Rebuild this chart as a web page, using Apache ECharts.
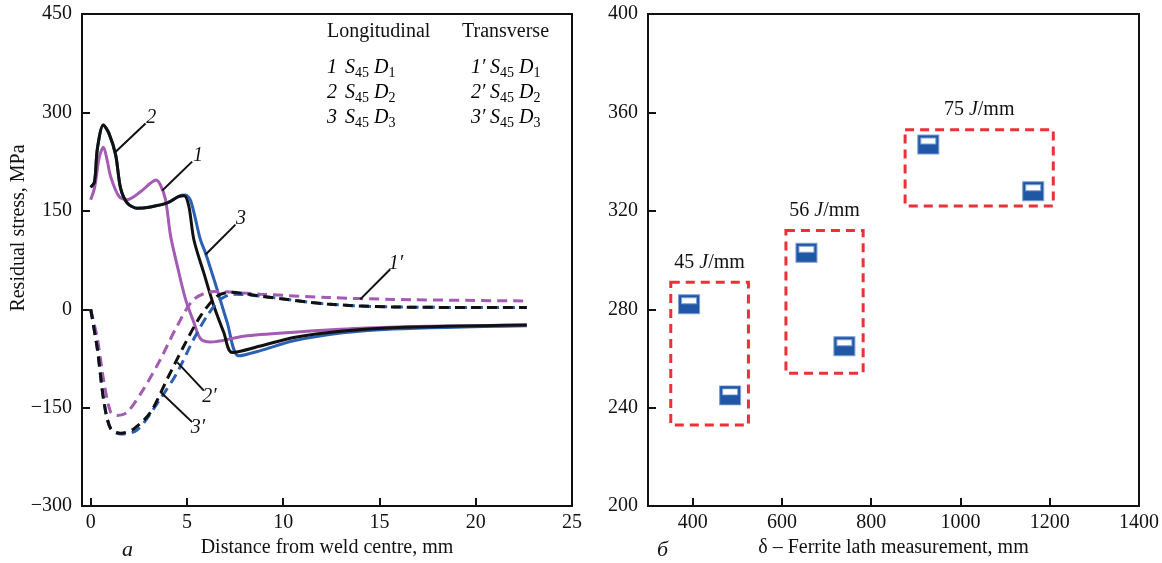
<!DOCTYPE html>
<html>
<head>
<meta charset="utf-8">
<title>Residual stress and ferrite lath</title>
<script src="https://cdn.jsdelivr.net/npm/echarts@6/dist/echarts.min.js"></script>
<style>
  html, body {margin:0; padding:0; background:#fff;}
  #main {width:1162px; height:563px;}
</style>
</head>
<body>
<div id="main"></div>
<script>
// --- left panel: residual stress vs distance from weld centre [mm, MPa]
var curve1 = [[0,167],[0.2,185],[0.45,232],[0.66,247],[0.85,228],[1.04,202],[1.47,172],[1.9,167],[2.59,179],[3.1,192],[3.4,197],[3.63,189],[3.89,167],[4.15,112],[4.5,66],[4.93,15],[5.36,-20],[5.71,-45],[6.22,-50],[7.95,-41],[10.55,-35],[14,-29],[17.46,-26],[22.65,-24]];
var curve2 = [[0,186],[0.2,194],[0.35,245],[0.66,281],[0.95,268],[1.3,235],[1.55,185],[1.9,162],[2.42,154],[3.11,156],[3.98,162],[4.58,172],[4.85,173],[5.1,157],[5.36,106],[5.88,55],[6.4,5],[6.91,-35],[7.35,-66],[8.82,-56],[10.55,-43],[13.1,-33],[15.7,-28],[22.65,-24]];
var curve3 = [[0,186],[0.2,194],[0.35,245],[0.66,281],[0.95,268],[1.3,235],[1.55,185],[1.9,162],[2.42,154],[3.11,156],[3.98,162],[4.58,172],[4.93,174],[5.2,165],[5.7,106],[5.96,86],[6.57,30],[7.09,-20],[7.69,-71],[8.82,-63],[10.55,-48],[13.1,-36],[15.7,-30],[22.65,-25]];
var curve1t = [[0,0],[0.35,-45],[0.69,-111],[1.04,-157],[1.38,-162],[1.9,-157],[2.76,-121],[3.63,-76],[4.5,-25],[5.36,15],[6.4,27],[8.82,23],[12.28,18],[15.7,15],[22.65,12.6]];
var curve2t = [[0,0],[0.35,-61],[0.69,-141],[1.04,-182],[1.56,-189],[2.25,-182],[3.11,-157],[3.98,-106],[4.84,-56],[5.71,-10],[6.57,20],[7.26,26],[8.82,20],[12.28,8],[15.7,3.5],[22.65,2.5]];
var curve3t = [[0,0],[0.35,-61],[0.69,-141],[1.04,-182],[1.56,-190],[2.42,-184],[3.63,-136],[4.5,-96],[5.36,-45],[6.05,-10],[6.74,15],[7.43,23],[8.82,20],[12.28,8],[15.7,3.5],[22.65,2.5]];

// curve labels with leader lines (data coords)
var leaders = [
  {text:'2',  from:[1.3,240],  to:[2.85,283]},
  {text:'1',  from:[3.72,181], to:[5.27,225]},
  {text:'3',  from:[5.96,83],  to:[7.52,129]},
  {text:'1′', from:[14.0,15],  to:[15.56,61]},
  {text:'2′', from:[4.5,-81],  to:[5.88,-124]},
  {text:'3′', from:[3.63,-126],to:[5.27,-172]}
];

// --- right panel: ferrite lath vs stress
var lathX = [392, 484, 655, 740, 928, 1163];
var lathY = [282, 245, 303, 265, 347, 328];
var heatLabels = ['45', '56', '75'];
var heatBoxes = [[[351,291],[525,233]], [[609,312],[782,254]], [[876,353],[1208,322]]];

var leftTicks = [0,5,10,15,20,25];
var rightTicks = [400,600,800,1000,1200,1400];

var FONT = 'Liberation Serif';
var txt = {fontFamily: FONT, fontSize: 20, color: '#111'};
var PURPLE = '#a35bb3', BLUE = '#2b61b3', BLACK = '#111';

var chart = echarts.init(document.getElementById('main'));

function lineSeries(data, color, dashed, extra) {
  var s = {
    type: 'line', xAxisIndex: 0, yAxisIndex: 0, data: data,
    showSymbol: false, smooth: 0.3, silent: true,
    lineStyle: {color: color, width: 3, type: dashed ? [10, 6] : 'solid'}
  };
  return Object.assign(s, extra || {});
}

var markLineData = leaders.map(function (l) {
  return [{coord: l.from, label: {formatter: l.text}}, {coord: l.to}];
});

var boxData = heatBoxes.map(function (b, i) {
  return [{coord: b[0], label: {formatter: '{n|' + heatLabels[i] + ' }{i|J}{n|/mm}'}}, {coord: b[1]}];
});

function plain(v) { return v < 0 ? '−' + (-v) : String(v); }

function axisCommon() {
  return {
    axisLine: {onZero: false, lineStyle: {color: BLACK, width: 2}},
    axisTick: {inside: true, length: 8, lineStyle: {color: BLACK, width: 2}},
    splitLine: {show: false},
    axisLabel: Object.assign({formatter: plain}, txt)
  };
}

var xLeft = Object.assign(axisCommon(), {
  type: 'value', gridIndex: 0, min: -0.45, max: 25,
  name: 'Distance from weld centre, mm', nameLocation: 'middle', nameGap: 29,
  nameTextStyle: txt
});
xLeft.axisLabel.customValues = leftTicks;
xLeft.axisLabel.margin = 7;
xLeft.axisTick.customValues = leftTicks;

var yLeft = Object.assign(axisCommon(), {
  type: 'value', gridIndex: 0, min: -300, max: 450, interval: 150
});
yLeft.axisLabel.margin = 10;

var xRight = Object.assign(axisCommon(), {
  type: 'value', gridIndex: 1, min: 300, max: 1400,
  name: 'δ – Ferrite lath measurement, mm', nameLocation: 'middle', nameGap: 29,
  nameTextStyle: txt
});
xRight.axisLabel.customValues = rightTicks;
xRight.axisLabel.margin = 7;
xRight.axisTick.customValues = rightTicks;

var yRight = Object.assign(axisCommon(), {
  type: 'value', gridIndex: 1, min: 200, max: 400, interval: 40
});
yRight.axisLabel.margin = 10;

var rich = {
  i: {fontFamily: FONT, fontSize: 20, fontStyle: 'italic', color: BLACK, lineHeight: 24},
  s: {fontFamily: FONT, fontSize: 14, color: BLACK, lineHeight: 14, verticalAlign: 'bottom'}
};
function sdText(k) {
  return '{i|S}{s|45}{i| D}{s|' + k + '}';
}
var graphics = [
  {type: 'text', x: 327, y: 32, style: {text: 'Longitudinal', verticalAlign: 'middle', fill: BLACK, font: '20px "Liberation Serif"'}},
  {type: 'text', x: 462, y: 32, style: {text: 'Transverse', verticalAlign: 'middle', fill: BLACK, font: '20px "Liberation Serif"'}},
  {type: 'text', x: 122, y: 550, style: {text: 'а', verticalAlign: 'middle', fill: BLACK, font: 'italic 22px "Liberation Serif"'}},
  {type: 'text', x: 657, y: 550, style: {text: 'б', verticalAlign: 'middle', fill: BLACK, font: 'italic 22px "Liberation Serif"'}},
  {type: 'text', x: 19, y: 228, rotation: Math.PI / 2, style: {text: 'Residual stress, MPa', align: 'center', verticalAlign: 'middle', fill: BLACK, font: '20px "Liberation Serif"'}}
];
['1', '2', '3'].forEach(function (k, i) {
  var y = 68 + i * 25;
  graphics.push({type: 'text', x: 327, y: y, style: {text: '{i|' + k + '}', rich: rich, verticalAlign: 'middle'}});
  graphics.push({type: 'text', x: 345, y: y, style: {text: sdText(k), rich: rich, verticalAlign: 'middle'}});
  graphics.push({type: 'text', x: 471, y: y, style: {text: '{i|' + k + '′}', rich: rich, verticalAlign: 'middle'}});
  graphics.push({type: 'text', x: 490, y: y, style: {text: sdText(k), rich: rich, verticalAlign: 'middle'}});
});

var option = {
  animation: false,
  backgroundColor: '#fff',
  grid: [
    {left: 82, right: 590, top: 14, bottom: 54, show: true, borderColor: BLACK, borderWidth: 2, backgroundColor: 'transparent'},
    {left: 648, right: 23, top: 14, bottom: 54, show: true, borderColor: BLACK, borderWidth: 2, backgroundColor: 'transparent'}
  ],
  xAxis: [xLeft, xRight],
  yAxis: [yLeft, yRight],
  graphic: graphics,
  series: [
    lineSeries(curve3, BLUE, false),
    lineSeries(curve1, PURPLE, false),
    lineSeries(curve2, BLACK, false, {
      markLine: {
        silent: true, symbol: ['none', 'none'], animation: false,
        lineStyle: {color: BLACK, width: 2, type: 'solid'},
        label: {show: true, position: 'end', distance: 8, fontFamily: FONT, fontSize: 20, fontStyle: 'italic', color: BLACK},
        data: markLineData
      }
    }),
    lineSeries(curve1t, PURPLE, true),
    lineSeries(curve3t, BLUE, true),
    lineSeries(curve2t, BLACK, true),
    {
      type: 'scatter', xAxisIndex: 1, yAxisIndex: 1, silent: true,
      data: lathX.map(function (x, i) { return [x, lathY[i]]; }),
      symbol: 'path://M0,0H21V19H0Z M3,3V9H18V3Z',
      symbolSize: [21, 19], symbolKeepAspect: false,
      itemStyle: {color: '#1f56a6', borderColor: '#7d9fd6', borderWidth: 1, opacity: 1},
      markArea: {
        silent: true,
        itemStyle: {color: 'rgba(0,0,0,0)', borderColor: '#eb3037', borderWidth: 3, borderType: [9, 6]},
        label: {
          show: true, position: 'top', distance: 8,
          rich: {
            n: {fontFamily: FONT, fontSize: 20, color: BLACK},
            i: {fontFamily: FONT, fontSize: 20, fontStyle: 'italic', color: BLACK}
          }
        },
        data: boxData
      }
    }
  ]
};
chart.setOption(option);
</script>
</body>
</html>
